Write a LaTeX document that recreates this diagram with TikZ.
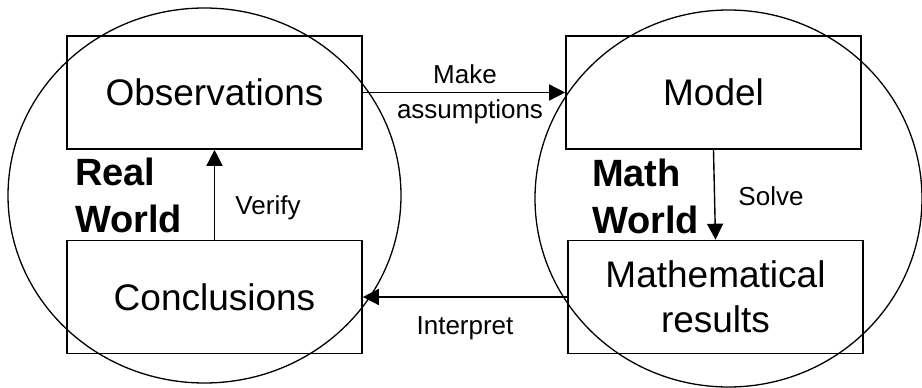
\documentclass[tikz,border=0pt]{standalone}
\usepackage{fontspec}
\setmainfont{Liberation Sans}
\usetikzlibrary{arrows.meta}
\begin{document}
\begin{tikzpicture}[x=1pt,y=-1pt,
  boxnode/.style={draw,line width=1.6pt,inner sep=0pt,minimum width=295pt,minimum height=113pt,font=\fontsize{37}{45}\selectfont,align=center},
  flow/.style={line width=1.4pt,-{Triangle[length=16pt,width=16pt]}},
  lbl/.style={font=\fontsize{26}{30}\selectfont,inner sep=0pt,anchor=base},
  world/.style={font=\bfseries\fontsize{38}{47}\selectfont,inner sep=0pt,anchor=base west,align=left},
  ring/.style={draw,line width=1.3pt}]
\useasboundingbox (0,0) rectangle (922,388);
\node[boxnode] (obs) at (214.5,92.5) {Observations};
\node[boxnode] (concl) at (214.5,297) {Conclusions};
\node[boxnode] (model) at (713.5,92.5) {Model};
\node[boxnode] (res) at (715.5,297) {Mathematical\\results};
\draw[ring] (204.5,195.5) ellipse [x radius=196.5,y radius=187.5];
\draw[ring] (728.5,198.5) ellipse [x radius=193.5,y radius=188.5];
\draw[flow] (obs.east) -- (model.west);
\draw[flow] (res.west) -- (concl.east);
\draw[flow] (concl.north) -- (obs.south);
\draw[flow] (model.south) -- (res.north);
\node[lbl] (mk) at (465,83) {Make};
\node[lbl] (as) at (470,118) {assumptions};
\node[lbl] (ip) at (465,334) {Interpret};
\node[lbl] (vf) at (268,214) {Verify};
\node[lbl] (sv) at (771,205) {Solve};
\node[world] (rw) at (75,232) {Real\\World};
\node[world] (mw) at (592,233) {Math\\World};
\end{tikzpicture}
\end{document}
